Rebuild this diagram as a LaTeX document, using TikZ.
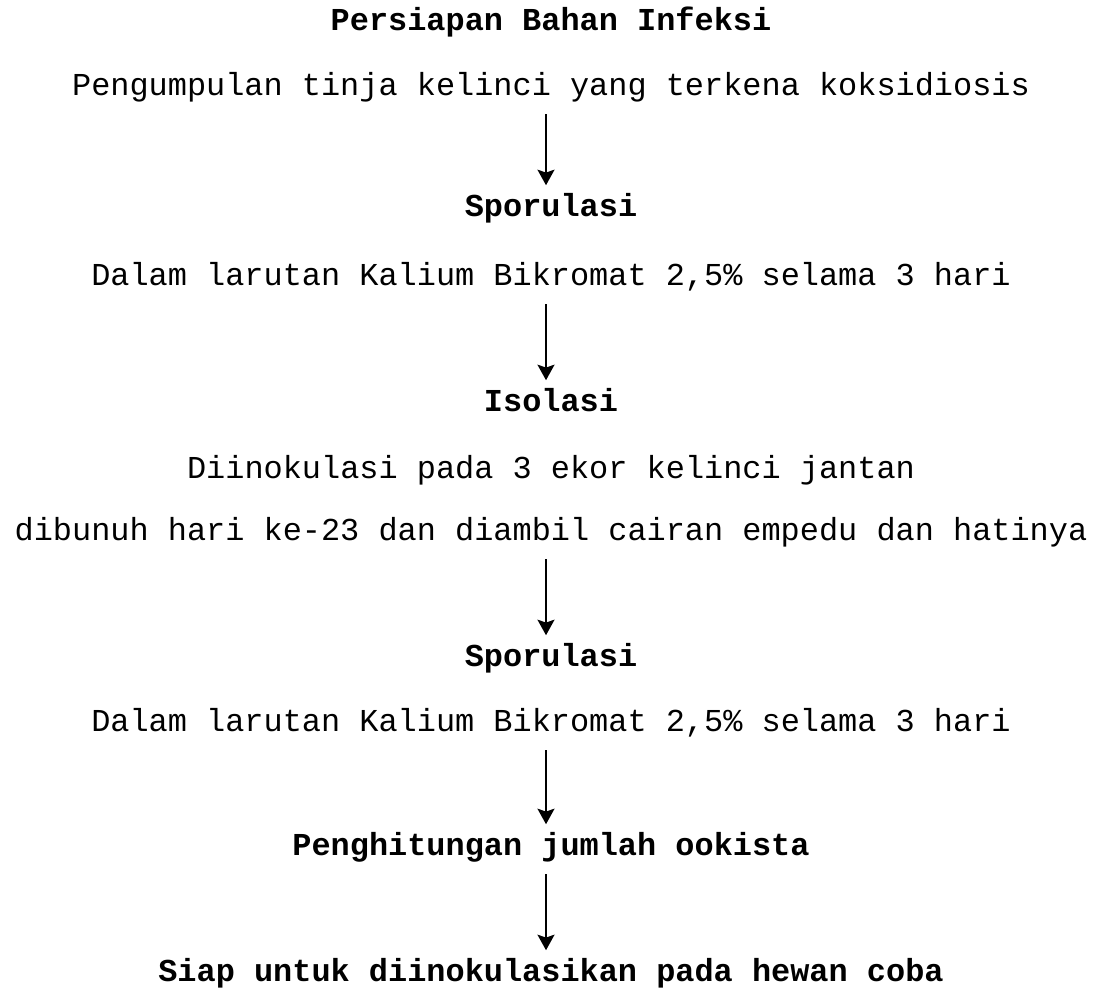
\documentclass[tikz,border=0pt]{standalone}
\usepackage{fontspec}
\setmonofont{Liberation Mono}
\usetikzlibrary{arrows.meta}

\tikzset{
 line/.style={font=\ttfamily\fontsize{22.7}{27}\selectfont,inner sep=0pt,text height=14pt,text depth=2pt},
 head/.style={line,font=\ttfamily\bfseries\fontsize{22.7}{27}\selectfont},
 flow/.style={line width=1.8pt,-{Stealth[length=11pt,width=12pt,inset=2pt]},shorten <=11pt,shorten >=8pt,transform canvas={xshift=-0.125cm}}
}

\begin{document}
\begin{tikzpicture}[x=0.025cm,y=-0.025cm]
 \useasboundingbox (0,0) rectangle (1098,989);
 \node[head] (judul) at (551,22) {Persiapan Bahan Infeksi};
 \node[line] (kumpul) at (551,87) {Pengumpulan tinja kelinci yang terkena koksidiosis};
 \node[head] (spora1) at (551,208) {Sporulasi};
 \node[line] (larut1) at (551,277) {Dalam larutan Kalium Bikromat 2,5\% selama 3 hari};
 \node[head] (isolasi) at (551,403) {Isolasi};
 \node[line] (inokul) at (551,470) {Diinokulasi pada 3 ekor kelinci jantan};
 \node[line] (bunuh) at (551,532) {dibunuh hari ke-23 dan diambil cairan empedu dan hatinya};
 \node[head] (spora2) at (551,658) {Sporulasi};
 \node[line] (larut2) at (551,723) {Dalam larutan Kalium Bikromat 2,5\% selama 3 hari};
 \node[head] (hitung) at (551,847) {Penghitungan jumlah ookista};
 \node[head] (siap) at (551,973) {Siap untuk diinokulasikan pada hewan coba};
 \draw[flow] (kumpul) -- (spora1);
 \draw[flow] (larut1) -- (isolasi);
 \draw[flow] (bunuh) -- (spora2);
 \draw[flow] (larut2) -- (hitung);
 \draw[flow] (hitung) -- (siap);
\end{tikzpicture}
\end{document}
